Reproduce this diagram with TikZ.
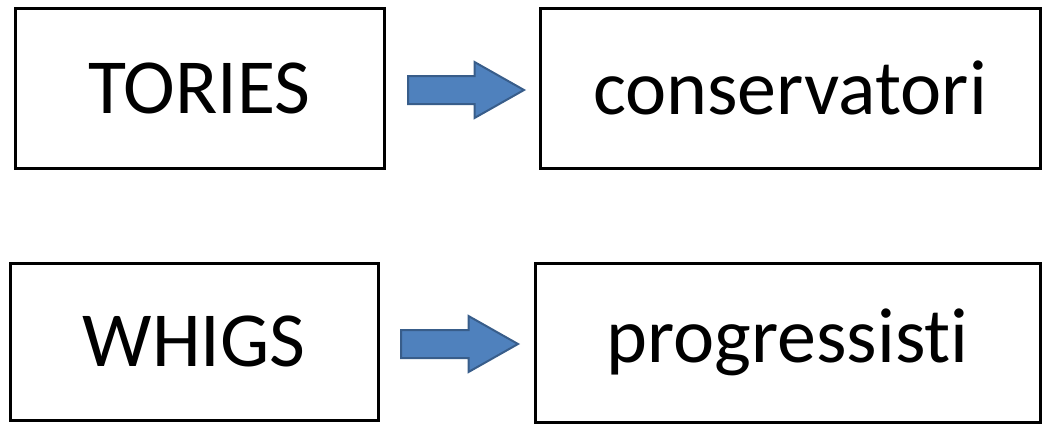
\documentclass[tikz,border=0pt]{standalone}
\usepackage{fontspec}
\setmainfont{Carlito}[RawFeature=-liga]
\usetikzlibrary{shapes.arrows}
\definecolor{arrfill}{HTML}{4F81BD}
\definecolor{arrline}{HTML}{385D8A}
\begin{document}
\begin{tikzpicture}[x=1pt, y=-1pt,
    wordbox/.style={draw, line width=3pt, inner sep=0pt, font=\fontsize{78}{80}\selectfont},
    bluearrow/.style={single arrow, fill=arrfill, draw=arrline, line width=2pt,
      inner sep=13pt, minimum width=54pt, single arrow head extend=14pt,
      single arrow tip angle=59, anchor=tail}]
          \useasboundingbox (0,0) rectangle (1049,426);
          \node[wordbox, minimum width=369pt, minimum height=160pt] (box0) at (199.5,88){TORIES};
          \node[wordbox, minimum width=500pt, minimum height=160pt] (box1) at (790,88){conservatori};
          \node[bluearrow, minimum height=116pt] (arr0) at (407,90){};
          \node[wordbox, minimum width=368pt, minimum height=157pt] (box2) at (194,341.5){WHIGS};
          \node[wordbox, minimum width=505pt, minimum height=159pt] (box3) at (787.5,342.5){progressisti};
          \node[bluearrow, minimum height=117pt] (arr1) at (400,344){};
        \end{tikzpicture}
\end{document}
